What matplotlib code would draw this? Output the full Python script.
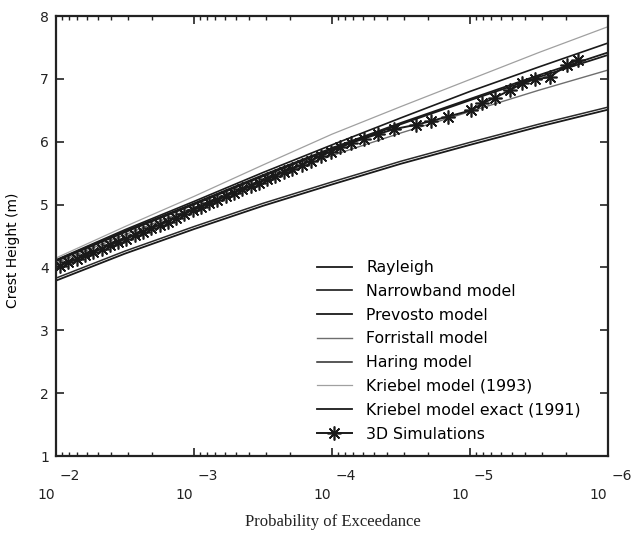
import numpy as np
import matplotlib
matplotlib.use("Agg")
import matplotlib.pyplot as plt
from matplotlib.ticker import FixedLocator, NullFormatter
from matplotlib.transforms import blended_transform_factory, ScaledTranslation

# ---------------- data ----------------
prob_exp = [-2.0, -2.5, -3.0, -3.5, -4.0, -4.5, -5.0, -5.5, -6.0]

rayleigh    = [3.79, 4.22, 4.61, 4.98, 5.32, 5.65, 5.95, 6.24, 6.51]
narrowband  = [4.12, 4.60, 5.05, 5.51, 5.95, 6.38, 6.80, 7.19, 7.57]
prevosto    = [4.10, 4.56, 5.00, 5.45, 5.88, 6.28, 6.66, 7.03, 7.38]
forristall  = [4.07, 4.52, 4.95, 5.38, 5.78, 6.14, 6.48, 6.82, 7.14]
haring      = [3.83, 4.26, 4.65, 5.02, 5.36, 5.69, 5.99, 6.28, 6.55]
kriebel93   = [4.15, 4.65, 5.13, 5.63, 6.12, 6.56, 6.99, 7.42, 7.83]
kriebel91   = [4.11, 4.58, 5.02, 5.47, 5.90, 6.30, 6.68, 7.06, 7.42]

sim_exp = [-2.03, -2.09, -2.15, -2.21, -2.27, -2.33, -2.39, -2.45, -2.51, -2.57,
           -2.63, -2.69, -2.75, -2.81, -2.87, -2.93, -2.99, -3.05, -3.11, -3.17,
           -3.23, -3.29, -3.35, -3.41, -3.47, -3.53, -3.59, -3.65, -3.71, -3.78,
           -3.85, -3.92, -3.99, -4.06, -4.14, -4.23, -4.33, -4.45, -4.61, -4.72,
           -4.84, -5.01, -5.09, -5.18, -5.29, -5.38, -5.47, -5.58, -5.70, -5.78]
sim_h   = [4.03, 4.08, 4.13, 4.19, 4.24, 4.30, 4.35, 4.41, 4.46, 4.51,
           4.57, 4.62, 4.68, 4.73, 4.79, 4.85, 4.91, 4.96, 5.02, 5.07,
           5.13, 5.19, 5.24, 5.29, 5.35, 5.40, 5.46, 5.52, 5.57, 5.63,
           5.70, 5.77, 5.84, 5.91, 5.98, 6.05, 6.12, 6.20, 6.27, 6.33,
           6.40, 6.50, 6.61, 6.70, 6.82, 6.93, 6.99, 7.03, 7.22, 7.30]

labels = ["Rayleigh", "Narrowband model", "Prevosto model", "Forristall model",
          "Haring model", "Kriebel model (1993)", "Kriebel model exact (1991)",
          "3D Simulations"]

xtick_exp = [-2, -3, -4, -5, -6]
ytick_vals = [1, 2, 3, 4, 5, 6, 7, 8]

# ---------------- figure ----------------
W, H = 632, 533
fig = plt.figure(figsize=(W / 100, H / 100), dpi=100)
ax = fig.add_axes([56 / W, 1 - 456 / H, (608 - 56) / W, (456 - 16) / H])

prob = [10.0 ** e for e in prob_exp]
dark = "#1a1a1a"
series = [
    (rayleigh, dark, 1.3),
    (narrowband, dark, 1.2),
    (prevosto, dark, 1.3),
    (forristall, "#6e6e6e", 1.0),
    (haring, "#2a2a2a", 1.1),
    (kriebel93, "#a0a0a0", 0.9),
    (kriebel91, dark, 1.3),
]
handles = []
for (vals, col, lw), lab in zip(series, labels[:7]):
    h, = ax.plot(prob, vals, color=col, lw=lw, label=lab)
    handles.append(h)

sim_p = [10.0 ** e for e in sim_exp]
h, = ax.plot(sim_p, sim_h, color=dark, lw=1.4, marker=(8, 2, 0), ms=10,
             mew=1.2, mec=dark, label=labels[7])
handles.append(h)

ax.set_xscale("log")
ax.set_xlim(1e-2, 1e-6)
ax.set_ylim(1, 8)

major = [10.0 ** e for e in xtick_exp]
minor = []
for d in range(-6, -1):
    for s in range(2, 10):
        minor.append(s * 10.0 ** d)
ax.xaxis.set_major_locator(FixedLocator(major))
ax.xaxis.set_minor_locator(FixedLocator(minor))
ax.xaxis.set_major_formatter(NullFormatter())
ax.xaxis.set_minor_formatter(NullFormatter())
ax.set_yticks(ytick_vals)
ax.set_yticklabels([str(v) for v in ytick_vals], fontsize=10)
ax.tick_params(axis="both", which="major", direction="in", length=6, width=1.2,
               top=True, right=True, colors="#222222", pad=5)
ax.tick_params(axis="x", which="minor", direction="in", length=3, width=1.0,
               top=True, colors="#222222")
ax.yaxis.set_minor_locator(FixedLocator([]))
for sp in ax.spines.values():
    sp.set_linewidth(1.6)
    sp.set_color("#222222")

# x tick labels: "10" with exponent placed above-right
tr = blended_transform_factory(ax.transData, ax.transAxes)
for e in xtick_exp:
    p = 10.0 ** e
    ax.text(p, 0, "10", transform=tr + ScaledTranslation(-10 / 100, -39 / 100, fig.dpi_scale_trans),
            ha="center", va="center", fontsize=10, color="#222222", clip_on=False)
    ax.text(p, 0, "\u2212" + str(-e), transform=tr + ScaledTranslation(14 / 100, -20 / 100, fig.dpi_scale_trans),
            ha="center", va="center", fontsize=10, color="#222222", clip_on=False)

ax.set_ylabel("Crest Height (m)", fontsize=10)
ax.yaxis.set_label_coords(-36 / 552, (456 - 250) / 440)
fig.text(333 / W, 1 - 522 / H, "Probability of Exceedance", ha="center", va="center",
         fontsize=12, family="Liberation Serif", color="#222222")

leg = ax.legend(handles=handles, loc="upper left",
                bbox_to_anchor=(317 / W, 1 - 260 / H), bbox_transform=fig.transFigure,
                frameon=False, fontsize=11.3, handlelength=2.2, handletextpad=0.95,
                labelspacing=0.56, borderaxespad=0, borderpad=0)

fig.savefig("out.png", dpi=100)
